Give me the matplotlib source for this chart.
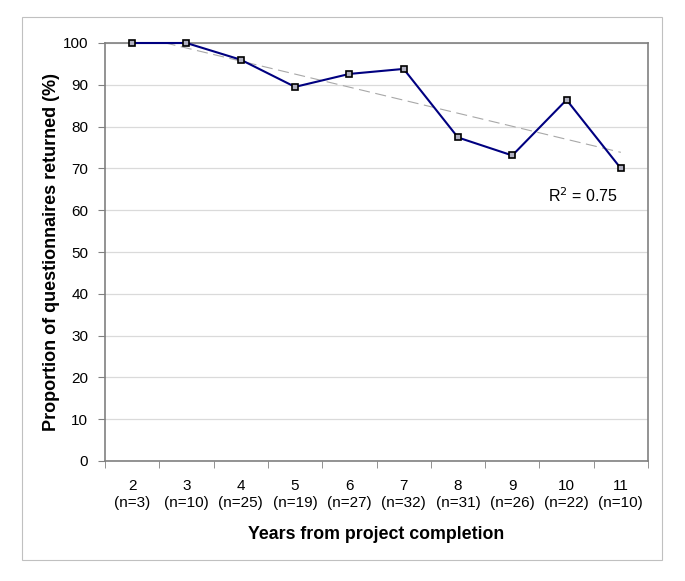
import numpy as np
import matplotlib
matplotlib.use('Agg')
import matplotlib.pyplot as plt
from matplotlib.patches import Rectangle

plt.rcParams['font.family'] = ['Liberation Sans', 'DejaVu Sans']

years = [2, 3, 4, 5, 6, 7, 8, 9, 10, 11]
n_sent = [3, 10, 25, 19, 27, 32, 31, 26, 22, 10]
returned_pct = [100.0, 100.0, 96.0, 89.5, 92.6, 93.8, 77.4, 73.1, 86.4, 70.0]
r2_label = 'R$^2$ = 0.75'

tick_labels = [f'{y}\n(n={n})' for y, n in zip(years, n_sent)]
x = np.arange(len(years))

fig = plt.figure(figsize=(6.85, 5.81), dpi=100)
ax = fig.add_axes([105 / 685, 1 - 461 / 581, 543 / 685, 418 / 581])

# outer chart frame
fig.patches.append(Rectangle((22 / 685, 1 - 560 / 581), 640 / 685, 543 / 581,
                             transform=fig.transFigure, fill=False,
                             edgecolor='#c0c0c0', linewidth=0.8))

# linear trend line
coef = np.polyfit(x, returned_pct, 1)
ax.plot(x, np.polyval(coef, x), color='#a8a8a8', linewidth=0.8,
        dashes=(10, 5), zorder=2)

ax.plot(x, returned_pct, color='#000080', linewidth=1.5, marker='s',
        markersize=4.5, markerfacecolor='#b0b0c0', markeredgecolor='black',
        markeredgewidth=1.2, zorder=3, clip_on=False)

ax.text(8.3, 63.5, r2_label, fontsize=11.5, ha='center', va='center')

ax.set_xlim(-0.5, len(years) - 0.5)
ax.set_ylim(0, 100)
ax.set_yticks(np.arange(0, 101, 10))
ax.yaxis.grid(True, color='#dadada', linewidth=0.9)
ax.set_axisbelow(True)

ax.set_xticks(x)
ax.set_xticklabels(tick_labels, fontsize=11, linespacing=1.25)
ax.set_xticks(np.arange(-0.5, len(years), 1), minor=True)
ax.tick_params(axis='x', which='major', length=0, pad=13)
ax.tick_params(axis='x', which='minor', length=5, color='#808080', direction='out')
ax.tick_params(axis='y', length=5, color='#808080', labelsize=11, pad=7)

for side in ['left', 'bottom', 'top', 'right']:
    ax.spines[side].set_color('#808080')
    ax.spines[side].set_linewidth(1.2)

ax.set_ylabel('Proportion of questionnaires returned (%)', fontsize=13,
              fontweight='bold', labelpad=2)
ax.set_xlabel('Years from project completion', fontsize=12.8,
              fontweight='bold', labelpad=12)

fig.savefig('out.png', dpi=100)
